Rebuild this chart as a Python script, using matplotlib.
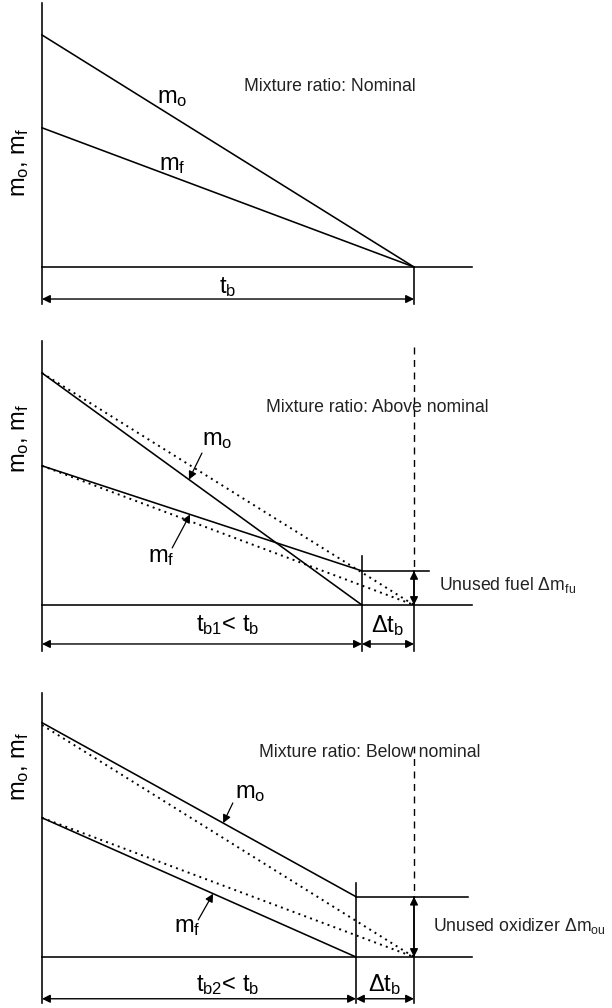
import numpy as np
import matplotlib
matplotlib.use("Agg")
import matplotlib.pyplot as plt

plt.rcParams['font.family'] = ['Liberation Sans', 'DejaVu Sans']
plt.rcParams['mathtext.default'] = 'regular'

# ---------------------------------------------------------------------------
# data (time in units of nominal burn time, mass in units of initial oxidizer)
# ---------------------------------------------------------------------------
t_nominal = [0.0, 1.0]
mo_nominal = [1.0, 0.0]
mf_nominal = [0.6, 0.0]

# mixture ratio above nominal: fuel left over
t_above = [0.0, 0.86]
mo_above = [1.0, 0.0]
mf_above = [0.6, 0.147]

# mixture ratio below nominal: oxidizer left over
t_below = [0.0, 0.844]
mo_below = [1.01, 0.26]
mf_below = [0.6, 0.0]

panel_titles = ["Mixture ratio: Nominal",
                "Mixture ratio: Above nominal",
                "Mixture ratio: Below nominal"]

# ---------------------------------------------------------------------------
W, H = 612, 1008
X0, XS, YS = 42, 372, 232   # pixel origin of t, pixels per unit t / unit m
fig = plt.figure(figsize=(W / 100, H / 100), dpi=100)

LW = 1.15
INK = 'black'
TXT = 12.7
LAB = 17


def panel_axes(top_px, bottom_px, baseline_px):
    ax = fig.add_axes([0, 1 - bottom_px / H, 1, (bottom_px - top_px) / H])
    ax.set_xlim((0 - X0) / XS, (W - X0) / XS)
    ax.set_ylim((baseline_px - bottom_px) / YS, (baseline_px - top_px) / YS)
    ax.axis('off')
    return ax


def frame(ax, y_low, x_end=1.156, y_top=1.14):
    ax.plot([0, 0], [y_low, y_top], color=INK, lw=LW)
    ax.plot([0, x_end], [0, 0], color=INK, lw=LW)


def dim_arrow(ax, x1, x2, y):
    ax.annotate('', xy=(x2, y), xytext=(x1, y),
                arrowprops=dict(arrowstyle='<|-|>', color=INK, lw=1.0,
                                shrinkA=0, shrinkB=0, mutation_scale=12))


def vdim_arrow(ax, x, y1, y2):
    ax.annotate('', xy=(x, y2), xytext=(x, y1),
                arrowprops=dict(arrowstyle='<|-|>', color=INK, lw=1.0,
                                shrinkA=0, shrinkB=0, mutation_scale=12))


def pointer(ax, text, tip_t, t_line, m_line, tail, label_xy):
    tip = (tip_t, np.interp(tip_t, t_line, m_line))
    ax.annotate('', xy=tip, xytext=tail,
                arrowprops=dict(arrowstyle='-|>', color=INK, lw=0.9,
                                shrinkA=0, shrinkB=0, mutation_scale=12))
    ax.text(*label_xy, text, fontsize=LAB, ha='center', va='center')


def ylabel(ax, y):
    ax.text(-0.059, y, r'$m_o$, $m_f$', fontsize=LAB, rotation=90,
            ha='center', va='center')


# ---------------------------------------------------------------------------
# TOP PANEL: nominal
# ---------------------------------------------------------------------------
ax = panel_axes(0, 330, 267)
frame(ax, -0.16)
ax.plot(t_nominal, mo_nominal, color=INK, lw=LW)
ax.plot(t_nominal, mf_nominal, color=INK, lw=LW)
ax.plot([t_nominal[1]] * 2, [0, -0.16], color=INK, lw=LW)
dim_arrow(ax, 0, t_nominal[1], -0.138)
ax.text(0.5, -0.085, r'$t_b$', fontsize=LAB, ha='center', va='center')
ax.text(0.35, 0.73, r'$m_o$', fontsize=LAB, ha='center', va='center')
ax.text(0.35, 0.44, r'$m_f$', fontsize=LAB, ha='center', va='center')
ax.text(0.774, 0.776, panel_titles[0], fontsize=TXT, ha='center',
        va='center', color='#222222')
ylabel(ax, 0.45)

# ---------------------------------------------------------------------------
# MIDDLE PANEL: above nominal
# ---------------------------------------------------------------------------
ax = panel_axes(330, 665, 605)
frame(ax, -0.20)
ax.plot(t_nominal, mo_nominal, color=INK, lw=1.4, ls=(0, (1, 2.2)))
ax.plot(t_nominal, mf_nominal, color=INK, lw=1.4, ls=(0, (1, 2.2)))
ax.plot(t_above, mo_above, color=INK, lw=LW)
ax.plot(t_above, mf_above, color=INK, lw=LW)
tb1 = t_above[1]
ax.plot([tb1, tb1], [0.21, -0.20], color=INK, lw=LW)
ax.plot([tb1, 1.04], [mf_above[1]] * 2, color=INK, lw=LW)
ax.plot([1.0, 1.0], [1.11, mf_above[1]], color=INK, lw=1.0, ls=(0, (5, 4)))
ax.plot([1.0, 1.0], [mf_above[1], -0.20], color=INK, lw=LW)
vdim_arrow(ax, 1.0, mf_above[1], 0)
dim_arrow(ax, 0, tb1, -0.168)
dim_arrow(ax, tb1, 1.0, -0.168)
ax.text(0.5, -0.088, r'$t_{b1}$< $t_b$', fontsize=LAB, ha='center', va='center')
ax.text((tb1 + 1.0) / 2, -0.088, r'$\Delta t_b$', fontsize=LAB,
        ha='center', va='center')
pointer(ax, r'$m_o$', 0.395, t_above, mo_above, (0.43, 0.655), (0.47, 0.71))
pointer(ax, r'$m_f$', 0.398, t_above, mf_above, (0.35, 0.246), (0.32, 0.207))
ax.text(0.90, 0.85, panel_titles[1], fontsize=TXT, ha='center',
        va='center', color='#222222')
ax.text(1.067, 0.086, r'Unused fuel $\Delta m_{fu}$', fontsize=TXT,
        ha='left', va='center', color='#222222')
ylabel(ax, 0.72)

# ---------------------------------------------------------------------------
# BOTTOM PANEL: below nominal
# ---------------------------------------------------------------------------
ax = panel_axes(665, 1008, 957)
frame(ax, -0.20)
ax.plot(t_nominal, mo_nominal, color=INK, lw=1.4, ls=(0, (1, 2.2)))
ax.plot(t_nominal, mf_nominal, color=INK, lw=1.4, ls=(0, (1, 2.2)))
ax.plot(t_below, mo_below, color=INK, lw=LW)
ax.plot(t_below, mf_below, color=INK, lw=LW)
tb2 = t_below[1]
ax.plot([tb2, tb2], [0.32, -0.20], color=INK, lw=LW)
ax.plot([tb2, 1.145], [mo_below[1]] * 2, color=INK, lw=LW)
ax.plot([1.0, 1.0], [0.91, mo_below[1]], color=INK, lw=1.0, ls=(0, (5, 4)))
ax.plot([1.0, 1.0], [mo_below[1], -0.20], color=INK, lw=LW)
vdim_arrow(ax, 1.0, mo_below[1], 0)
dim_arrow(ax, 0, tb2, -0.18)
dim_arrow(ax, tb2, 1.0, -0.18)
ax.text(0.5, -0.12, r'$t_{b2}$< $t_b$', fontsize=LAB, ha='center', va='center')
ax.text((tb2 + 1.0) / 2, -0.12, r'$\Delta t_b$', fontsize=LAB,
        ha='center', va='center')
pointer(ax, r'$m_o$', 0.487, t_below, mo_below, (0.513, 0.664), (0.56, 0.707))
pointer(ax, r'$m_f$', 0.46, t_below, mf_below, (0.42, 0.16), (0.39, 0.13))
ax.text(0.88, 0.88, panel_titles[2], fontsize=TXT, ha='center',
        va='center', color='#222222')
ax.text(1.05, 0.134, r'Unused oxidizer $\Delta m_{ou}$', fontsize=TXT,
        ha='left', va='center', color='#222222')
ylabel(ax, 0.82)

fig.savefig('out.png', dpi=100)
